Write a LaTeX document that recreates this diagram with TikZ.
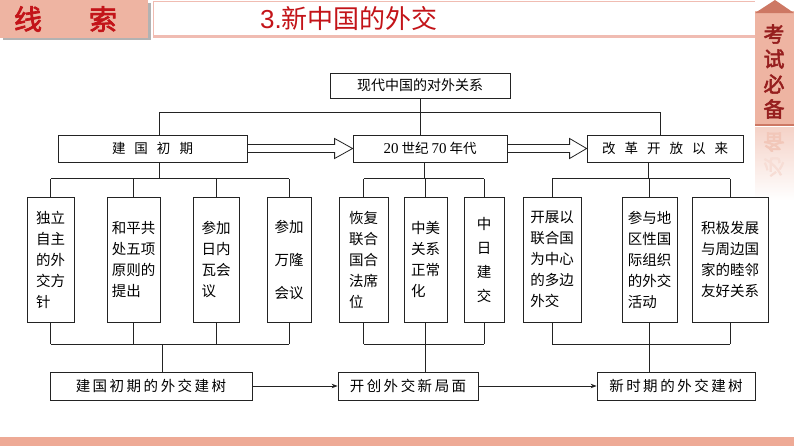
\documentclass[tikz,border=0pt]{standalone}
\usepackage{fontspec}
\newfontfamily\cjk{Noto Sans CJK SC}
\newfontfamily\cjkbold[FakeBold=2.5]{Noto Sans CJK SC}
\newfontfamily\numfont{Liberation Serif}
\newfontfamily\titlenum{Liberation Sans}
\usetikzlibrary{positioning}
\usetikzlibrary{calc}
\usetikzlibrary{arrows.meta}
\definecolor{hdrpink}{RGB}{238,180,162}
\definecolor{hdrred}{RGB}{195,20,25}
\definecolor{tabred}{RGB}{150,30,30}
\definecolor{roofpink}{RGB}{205,120,100}
\definecolor{framepink}{RGB}{240,188,178}
\definecolor{bandpink}{RGB}{238,170,150}
\definecolor{inkgray}{RGB}{35,35,35}
\newcommand{\gap}{\hspace{9pt}}
\newcommand{\tgap}{\hspace{2.5pt}}
\tikzset{
    wire/.style = {draw=inkgray,line width=0.8pt},
    hdrchar/.style = {inner sep=0pt,text=hdrred,font=\cjkbold\fontsize{28}{30}\selectfont},
    tabchar/.style = {inner sep=0pt,text=tabred,font=\cjkbold\fontsize{21}{22}\selectfont},
    topic/.style = {rectangle,wire,minimum width=180pt,minimum height=25pt,inner sep=0pt,font=\cjk\fontsize{14}{16}\selectfont},
    stage/.style = {rectangle,wire,minimum height=27pt,inner sep=0pt,font=\cjk\fontsize{13.5}{16}\selectfont},
    event/.style = {rectangle,wire,minimum height=125pt,inner sep=0pt,align=left,font=\cjk\fontsize{14.5}{21}\selectfont},
    result/.style = {rectangle,wire,minimum height=28pt,inner sep=0pt,font=\cjk\fontsize{14.5}{16}\selectfont}}
\begin{document}
\begin{tikzpicture}[x=1pt,y=-1pt]
    \useasboundingbox (0,0) rectangle (794,447);
    % header
    \fill[black!30] (3,3) rectangle (151,40);
    \fill[hdrpink] (0,0) rectangle (148,38);
    \node[hdrchar] (xian) at (28,19) {线};
    \node[hdrchar] (suo) at (103,19) {索};
    \fill[white] (153,1) rectangle (755,36);
    \draw[framepink,line width=1pt] (153,36) -- (153,1) -- (755,1);
    \draw[framepink,line width=3pt] (153,36) -- (755,36);
    \node[anchor=west,inner sep=0pt,text=hdrred,font=\cjk\fontsize{26}{28}\selectfont] (title) at (260,19) {{\titlenum 3.}新中国的外交};
    % side tab
    \fill[hdrpink] (755,11) rectangle (794,125);
    \fill[roofpink] (755,13) -- (775,0) -- (794,13) -- cycle;
    \draw[roofpink,line width=1.5pt] (755,125) -- (794,125);
    \node[tabchar] (kao) at (774,34) {考};
    \node[tabchar] (shi) at (774,59) {试};
    \node[tabchar] (bi) at (774,84) {必};
    \node[tabchar] (bei) at (774,109) {备};
    \shade[top color=hdrpink!60,bottom color=white] (755,127) rectangle (794,200);
    \node[tabchar,text=hdrpink!75!white,yscale=-1] (beimirror) at (774,142) {备};
    \node[tabchar,text=hdrpink!45!white,yscale=-1] (bimirror) at (774,167) {必};
    \fill[bandpink] (0,437) rectangle (794,446);
    % boxes
    \node[topic] (root) at (420,85.5) {现代中国的对外关系};
    \node[stage,minimum width=189pt] (early) at (152.5,148.5) {建\gap 国\gap 初\gap 期};
    \node[stage,minimum width=154pt] (seventies) at (430,148.5) {{\numfont\fontsize{15}{16}\selectfont 20}\hspace{3pt}世纪\hspace{3pt}{\numfont\fontsize{15}{16}\selectfont 70}\hspace{3pt}年代};
    \node[stage,minimum width=156pt] (reform) at (665,148.5) {改\gap 革\gap 开\gap 放\gap 以\gap 来};
    \node[event,minimum width=47pt] (e1) at (50.5,259.5) {独立\\自主\\的外\\交方\\针};
    \node[event,minimum width=53pt] (e2) at (133.5,259.5) {和平共\\处五项\\原则的\\提出};
    \node[event,minimum width=46pt] (e3) at (216,259.5) {参加\\日内\\瓦会\\议};
    \node[event,minimum width=44pt] (e4) at (289,259.5) {参加\\[12pt]万隆\\[12pt]会议};
    \node[event,minimum width=49pt] (e5) at (363.5,259.5) {恢复\\联合\\国合\\法席\\位};
    \node[event,minimum width=43pt] (e6) at (425.5,259.5) {中美\\关系\\正常\\化};
    \node[event,minimum width=40pt] (e7) at (484,259.5) {中\\[3pt]日\\[3pt]建\\[3pt]交};
    \node[event,minimum width=58pt] (e8) at (552,259.5) {开展以\\联合国\\为中心\\的多边\\外交};
    \node[event,minimum width=55pt] (e9) at (649.5,259.5) {参与地\\区性国\\际组织\\的外交\\活动};
    \node[event,minimum width=76pt] (e10) at (730,259.5) {积极发展\\与周边国\\家的睦邻\\友好关系};
    \node[result,minimum width=202pt] (res1) at (151,386) {建\tgap 国\tgap 初\tgap 期\tgap 的\tgap 外\tgap 交\tgap 建\tgap 树};
    \node[result,minimum width=140pt] (res2) at (408,386) {开\tgap 创\tgap 外\tgap 交\tgap 新\tgap 局\tgap 面};
    \node[result,minimum width=158pt] (res3) at (676,386) {新\tgap 时\tgap 期\tgap 的\tgap 外\tgap 交\tgap 建\tgap 树};
    % bars
    \coordinate (bar0) at (0,112);
    \coordinate (bar1) at (0,178.5);
    \coordinate (bar2) at (0,344);
    \coordinate (earlytop) at ([xshift=6.5pt]early.north);
    \coordinate (reformtop) at ([xshift=-5pt]reform.north);
    \coordinate (earlybot) at ([xshift=6.5pt]early.south);
    \coordinate (seventiesbot) at ([xshift=-6pt]seventies.south);
    \coordinate (reformbot) at ([xshift=-17pt]reform.south);
    \coordinate (res1top) at ([xshift=11pt]res1.north);
    \draw[wire] (root.south) -- (root.south |- seventies.north);
    \draw[wire] (earlytop) -- (earlytop |- bar0) -- (reformtop |- bar0) -- (reformtop);
    \draw[wire] (earlybot) -- (earlybot |- bar1) (seventiesbot) -- (seventiesbot |- bar1) (reformbot) -- (reformbot |- bar1);
    \draw[wire] (e1.north |- bar1) -- (e4.north |- bar1) (e5.north |- bar1) -- (e7.north |- bar1) (e8.north |- bar1) -- (e10.north |- bar1);
    \foreach \i in {1,...,10}
        \draw[wire] (e\i.north) -- (e\i.north |- bar1) (e\i.south) -- (e\i.south |- bar2);
    \draw[wire] (e1.south |- bar2) -- (e4.south |- bar2) (e5.south |- bar2) -- (e7.south |- bar2) (e8.south |- bar2) -- (e10.south |- bar2);
    \draw[wire] (res1top |- bar2) -- (res1top) (e6.south |- bar2) -- (e6.south |- res2.north) (e9.south |- bar2) -- (e9.south |- res3.north);
    % hollow arrows
    \draw[wire] ($(early.east)+(0,-4)$) -- ($(seventies.west)+(-18,-4)$) -- ($(seventies.west)+(-18,-10)$) -- (seventies.west)
        -- ($(seventies.west)+(-18,10)$) -- ($(seventies.west)+(-18,4)$) -- ($(early.east)+(0,4)$);
    \draw[wire] ($(seventies.east)+(0,-4)$) -- ($(reform.west)+(-17,-4)$) -- ($(reform.west)+(-17,-10)$) -- (reform.west)
        -- ($(reform.west)+(-17,10)$) -- ($(reform.west)+(-17,4)$) -- ($(seventies.east)+(0,4)$);
    \draw[wire,-{Stealth[length=6pt,width=4.5pt]}] (res1) -- (res2);
    \draw[wire,-{Stealth[length=6pt,width=4.5pt]}] (res2) -- (res3);
\end{tikzpicture}
\end{document}
